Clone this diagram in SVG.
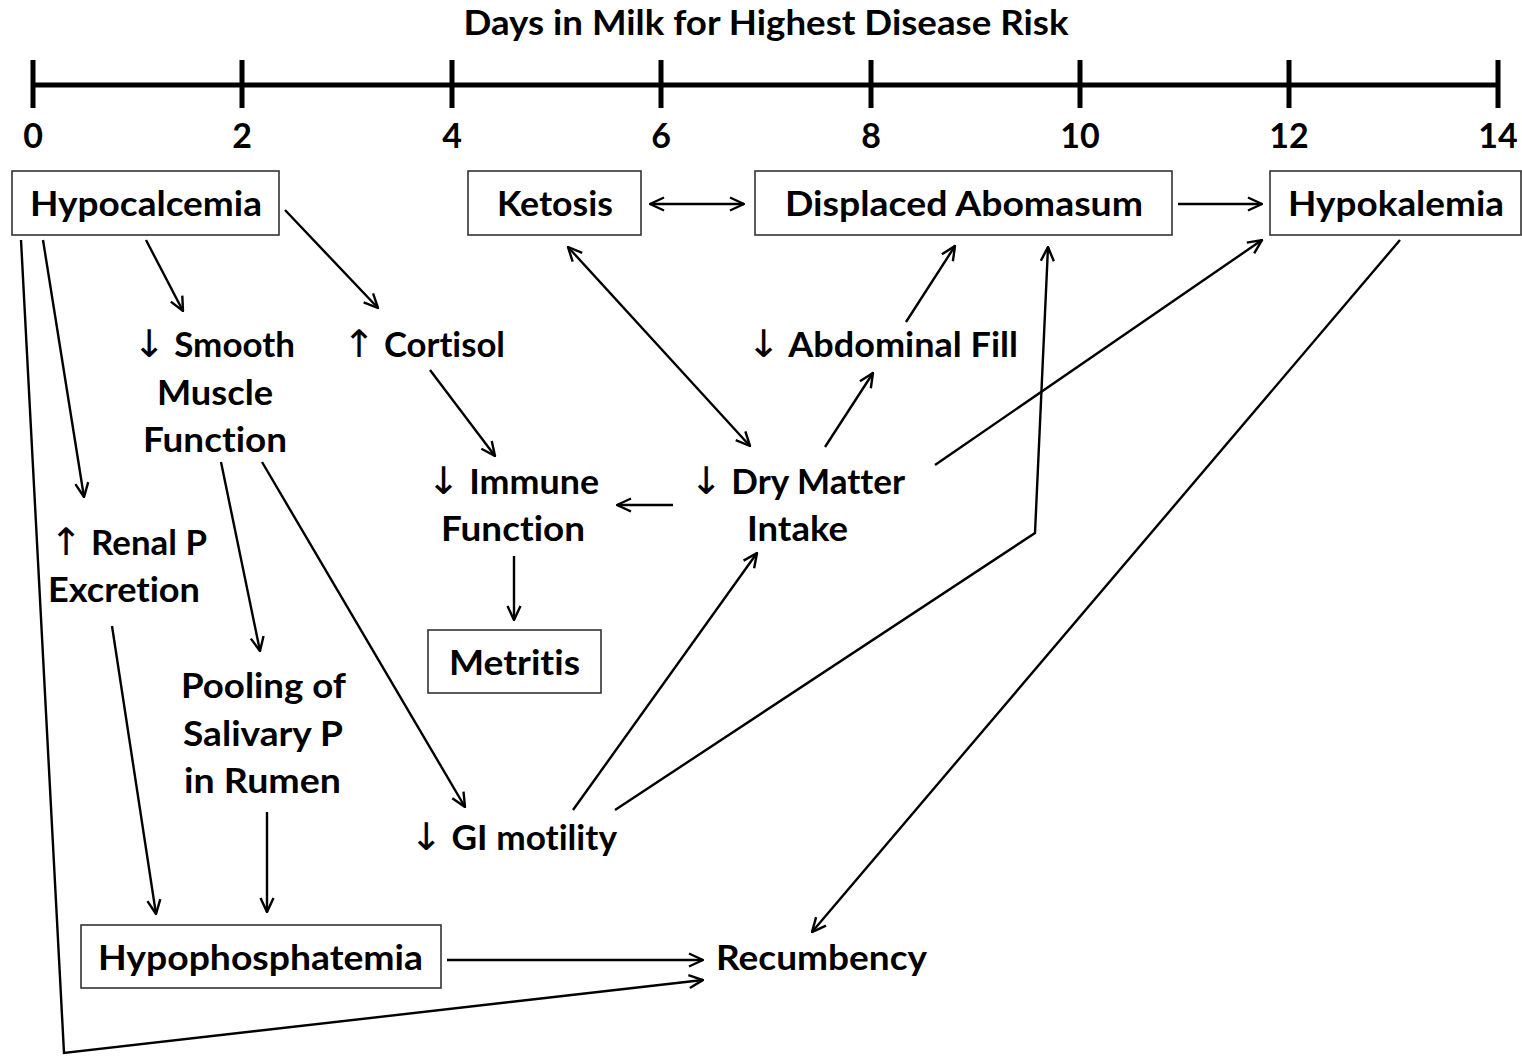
<svg xmlns="http://www.w3.org/2000/svg" width="1522" height="1057" viewBox="0 0 1522 1057">
<style>
text{font-family:Lato,"Open Sans","Liberation Sans",sans-serif;font-weight:700;font-size:34px;fill:#000;font-variant-ligatures:none;font-feature-settings:"liga" 0,"clig" 0}
.c{text-anchor:middle}
.ar{font-weight:400;font-family:"DejaVu Sans",sans-serif;font-size:38px}
.box{fill:#fff;stroke:#333;stroke-width:1.6}
.ln{fill:none;stroke:#000;stroke-width:2.4}
.axis{stroke:#000;stroke-width:5;fill:none}
</style>
<defs>
<marker id="ah" viewBox="0 0 16 16" refX="15" refY="8" markerWidth="16" markerHeight="16" markerUnits="userSpaceOnUse" orient="auto-start-reverse">
<path d="M1,1.5 L15,8 L1,14.5" fill="none" stroke="#000" stroke-width="2.4"/>
</marker>
</defs>
<g id="axis">
<text class="c" x="766" y="35" textLength="605" lengthAdjust="spacingAndGlyphs">Days in Milk for Highest Disease Risk</text>
<path class="axis" d="M33,85 H1498 M33,60 V108 M242,60 V108 M452,60 V108 M661,60 V108 M871,60 V108 M1080,60 V108 M1289,60 V108 M1498,60 V108"/>
<text class="c" x="33" y="148">0</text>
<text class="c" x="242" y="148">2</text>
<text class="c" x="452" y="148">4</text>
<text class="c" x="661" y="148">6</text>
<text class="c" x="871" y="148">8</text>
<text class="c" x="1080" y="148">10</text>
<text class="c" x="1289" y="148">12</text>
<text class="c" x="1498" y="148">14</text>
</g>
<g id="connectors">
<path class="ln" d="M146,240 L183,311" marker-end="url(#ah)"/>
<path class="ln" d="M285,210 L378,308" marker-end="url(#ah)"/>
<path class="ln" d="M43,240 L84,497" marker-end="url(#ah)"/>
<path class="ln" d="M21,240 L64,1053 L703,980" marker-end="url(#ah)"/>
<path class="ln" d="M650,204 L744,204" marker-start="url(#ah)" marker-end="url(#ah)"/>
<path class="ln" d="M1178,204 L1262,204" marker-end="url(#ah)"/>
<path class="ln" d="M568,247 L750,446" marker-start="url(#ah)" marker-end="url(#ah)"/>
<path class="ln" d="M906,322 L955,246" marker-end="url(#ah)"/>
<path class="ln" d="M825,447 L873,373" marker-end="url(#ah)"/>
<path class="ln" d="M673,505 L617,505" marker-end="url(#ah)"/>
<path class="ln" d="M935,465 L1262,240" marker-end="url(#ah)"/>
<path class="ln" d="M430,370 L495,456" marker-end="url(#ah)"/>
<path class="ln" d="M514,556 L514,620" marker-end="url(#ah)"/>
<path class="ln" d="M221,462 L260,651" marker-end="url(#ah)"/>
<path class="ln" d="M262,462 L465,807" marker-end="url(#ah)"/>
<path class="ln" d="M573,810 L757,553" marker-end="url(#ah)"/>
<path class="ln" d="M615,810 L1035,533 L1048,247" marker-end="url(#ah)"/>
<path class="ln" d="M1400,240 L812,932" marker-end="url(#ah)"/>
<path class="ln" d="M112,626 L156,914" marker-end="url(#ah)"/>
<path class="ln" d="M267,812 L267,912" marker-end="url(#ah)"/>
<path class="ln" d="M447,960 L703,960" marker-end="url(#ah)"/>
</g>
<g id="hypocalcemia"><rect class="box" x="12" y="171" width="267" height="64"/><text x="30" y="216" textLength="232" lengthAdjust="spacingAndGlyphs">Hypocalcemia</text></g>
<g id="ketosis"><rect class="box" x="468" y="171" width="173" height="64"/><text x="497" y="216" textLength="116" lengthAdjust="spacingAndGlyphs">Ketosis</text></g>
<g id="displaced-abomasum"><rect class="box" x="755" y="171" width="417" height="64"/><text x="785" y="216" textLength="358" lengthAdjust="spacingAndGlyphs">Displaced Abomasum</text></g>
<g id="hypokalemia"><rect class="box" x="1270" y="171" width="251" height="64"/><text x="1288" y="216" textLength="216" lengthAdjust="spacingAndGlyphs">Hypokalemia</text></g>
<g id="smooth-muscle">
<text x="133" y="357" textLength="162" lengthAdjust="spacingAndGlyphs"><tspan class="ar">↓</tspan> Smooth</text>
<text x="157" y="405" textLength="116" lengthAdjust="spacingAndGlyphs">Muscle</text>
<text x="143" y="452" textLength="144" lengthAdjust="spacingAndGlyphs">Function</text>
</g>
<g id="cortisol"><text x="343" y="357" textLength="162" lengthAdjust="spacingAndGlyphs"><tspan class="ar">↑</tspan> Cortisol</text></g>
<g id="abdominal-fill"><text x="747" y="357" textLength="271" lengthAdjust="spacingAndGlyphs"><tspan class="ar">↓</tspan> Abdominal Fill</text></g>
<g id="immune">
<text x="427" y="494" textLength="172" lengthAdjust="spacingAndGlyphs"><tspan class="ar">↓</tspan> Immune</text>
<text x="441" y="541" textLength="144" lengthAdjust="spacingAndGlyphs">Function</text>
</g>
<g id="dmi">
<text x="690" y="494" textLength="215" lengthAdjust="spacingAndGlyphs"><tspan class="ar">↓</tspan> Dry Matter</text>
<text x="747" y="541" textLength="101" lengthAdjust="spacingAndGlyphs">Intake</text>
</g>
<g id="renal-p">
<text x="50" y="555" textLength="157" lengthAdjust="spacingAndGlyphs"><tspan class="ar">↑</tspan> Renal P</text>
<text x="48" y="602" textLength="152" lengthAdjust="spacingAndGlyphs">Excretion</text>
</g>
<g id="metritis"><rect class="box" x="428" y="630" width="173" height="63"/><text x="449" y="675" textLength="131" lengthAdjust="spacingAndGlyphs">Metritis</text></g>
<g id="pooling">
<text x="181" y="698" textLength="165" lengthAdjust="spacingAndGlyphs">Pooling of</text>
<text x="183" y="746" textLength="160" lengthAdjust="spacingAndGlyphs">Salivary P</text>
<text x="184" y="793" textLength="157" lengthAdjust="spacingAndGlyphs">in Rumen</text>
</g>
<g id="gi-motility"><text x="410" y="850" textLength="207" lengthAdjust="spacingAndGlyphs"><tspan class="ar">↓</tspan> GI motility</text></g>
<g id="hypophosphatemia"><rect class="box" x="81" y="925" width="360" height="63"/><text x="98" y="970" textLength="325" lengthAdjust="spacingAndGlyphs">Hypophosphatemia</text></g>
<g id="recumbency"><text x="716" y="970" textLength="211" lengthAdjust="spacingAndGlyphs">Recumbency</text></g>
</svg>
